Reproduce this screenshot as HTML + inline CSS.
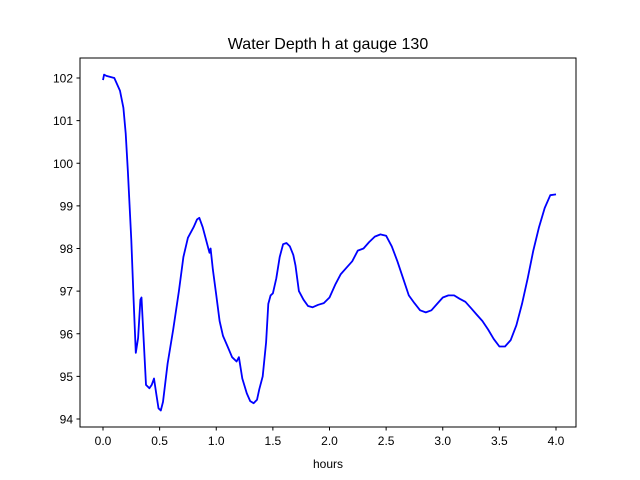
<!DOCTYPE html>
<html><head><meta charset="utf-8"><style>
body{margin:0;background:#fff;}
svg{display:block;font-family:"Liberation Sans","DejaVu Sans",sans-serif;}
</style></head><body>
<svg id="chart" width="640" height="480">
<rect x="0" y="0" width="640" height="480" fill="#fff"/>
<text x="328" y="49" text-anchor="middle" font-size="16">Water Depth h at gauge 130</text>
<g id="plot"></g>
<rect x="80" y="58" width="496" height="369" fill="none" stroke="#000" stroke-width="1"/>
<text x="328" y="468" text-anchor="middle" font-size="12">hours</text>
</svg>
<script>
const hours=[0.0,0.01,0.03,0.1,0.15,0.18,0.2,0.22,0.25,0.27,0.29,0.31,0.33,0.34,0.36,0.38,0.41,0.43,0.45,0.47,0.49,0.51,0.53,0.57,0.62,0.67,0.71,0.75,0.8,0.83,0.85,0.88,0.91,0.94,0.95,0.97,1.0,1.03,1.06,1.1,1.14,1.18,1.2,1.23,1.27,1.3,1.33,1.36,1.38,1.41,1.44,1.46,1.48,1.5,1.53,1.56,1.59,1.62,1.65,1.68,1.7,1.73,1.77,1.81,1.85,1.9,1.95,2.0,2.05,2.1,2.15,2.2,2.25,2.3,2.35,2.4,2.45,2.5,2.55,2.6,2.65,2.7,2.75,2.8,2.85,2.9,2.95,3.0,3.05,3.1,3.15,3.2,3.25,3.3,3.35,3.4,3.45,3.5,3.55,3.6,3.65,3.7,3.75,3.8,3.85,3.9,3.95,4.0];
const depth=[101.95,102.08,102.05,102.0,101.7,101.3,100.7,99.8,98.2,96.8,95.55,95.9,96.8,96.85,95.8,94.8,94.72,94.8,94.95,94.6,94.25,94.2,94.4,95.3,96.1,97.0,97.8,98.25,98.5,98.68,98.72,98.5,98.2,97.9,98.0,97.5,96.9,96.3,95.95,95.7,95.45,95.35,95.45,94.95,94.6,94.42,94.37,94.45,94.7,95.0,95.8,96.7,96.9,96.95,97.3,97.8,98.1,98.13,98.05,97.85,97.6,97.0,96.8,96.65,96.62,96.68,96.72,96.85,97.15,97.4,97.55,97.7,97.95,98.0,98.15,98.28,98.33,98.3,98.05,97.7,97.3,96.9,96.72,96.55,96.5,96.55,96.7,96.85,96.9,96.9,96.82,96.75,96.6,96.45,96.3,96.1,95.88,95.7,95.7,95.85,96.2,96.7,97.3,97.95,98.5,98.95,99.25,99.27];
const xTicks=[0.0,0.5,1.0,1.5,2.0,2.5,3.0,3.5,4.0];
const yTicks=[94,95,96,97,98,99,100,101,102];
const NS="http://www.w3.org/2000/svg";
function X(v){return 103+v*113.25;}
function Y(v){return 419-(v-94)*42.625;}
const g=document.getElementById('plot');
function mk(t,a){const e=document.createElementNS(NS,t);for(const k in a)e.setAttribute(k,a[k]);g.appendChild(e);return e;}
xTicks.forEach(t=>{
 const l=mk('line',{x1:X(t),x2:X(t),y1:427,y2:430.5,stroke:'#000'});
 
 
 const s=mk('text',{x:X(t),y:445,'text-anchor':'middle','font-size':'12'});
 s.textContent=t.toFixed(1);
 
 
});
yTicks.forEach(t=>{
 const l=mk('line',{x1:76.5,x2:80,y1:Y(t),y2:Y(t),stroke:'#000'});
 
 
 const s=mk('text',{x:73,y:Y(t)+4.5,'text-anchor':'end','font-size':'12'});
 s.textContent=t;
 
 
});
const pts=hours.map((h,i)=>X(h).toFixed(1)+','+Y(depth[i]).toFixed(1)).join(' ');
const p=mk('polyline',{points:pts,fill:'none',stroke:'#0000ff','stroke-width':'1.8','stroke-linejoin':'round'});


</script>
</body></html>
